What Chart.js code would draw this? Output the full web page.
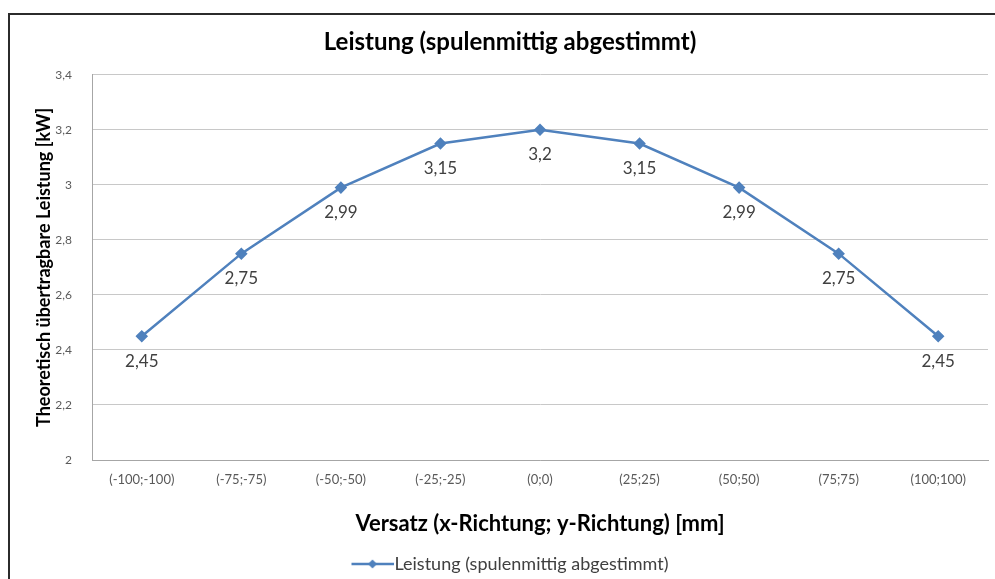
<!DOCTYPE html>
<html>
<head>
<meta charset="utf-8">
<script src="https://cdn.jsdelivr.net/npm/chart.js@4/dist/chart.umd.min.js"></script>
<style>
  html, body { margin: 0; padding: 0; background: #fff; }
  #wrap { width: 995px; height: 579px; }
</style>
</head>
<body>
<div id="wrap"><canvas id="grafico"></canvas></div>
<script>
const kategorien = ['(-100;-100)', '(-75;-75)', '(-50;-50)', '(-25;-25)', '(0;0)', '(25;25)', '(50;50)', '(75;75)', '(100;100)'];
const leistung = [2.45, 2.75, 2.99, 3.15, 3.2, 3.15, 2.99, 2.75, 2.45];
const yMin = 2, yMax = 3.4, yStep = 0.2;

const blau = '#4F81BD';
const schrift = 'Lato, "Open Sans", sans-serif';
const komma = v => String(Math.round(v * 100) / 100).replace('.', ',');

// Legendensymbol: Linie mit Raute (reicht bis an den Text heran)
function legendSymbol() {
  const c = document.createElement('canvas');
  c.width = 52; c.height = 12;
  const g = c.getContext('2d');
  g.strokeStyle = blau; g.lineWidth = 2.5;
  g.beginPath(); g.moveTo(9, 6); g.lineTo(52, 6); g.stroke();
  g.fillStyle = blau;
  g.beginPath(); g.moveTo(30, 1.5); g.lineTo(34.5, 6); g.lineTo(30, 10.5); g.lineTo(25.5, 6); g.closePath(); g.fill();
  return c;
}

/* ================= PLUGINS ================= */
const rahmen = {
  id: 'rahmen',
  beforeDraw(chart) {
    const ctx = chart.ctx;
    ctx.save();
    ctx.fillStyle = '#fff';
    ctx.fillRect(0, 0, chart.width, chart.height);
    ctx.strokeStyle = '#2b2b2b';
    ctx.lineWidth = 2;
    ctx.strokeRect(9, 14, chart.width + 20, chart.height + 20);
    ctx.restore();
  }
};

const werte = {
  id: 'werte',
  afterDatasetsDraw(chart) {
    const ctx = chart.ctx;
    const meta = chart.getDatasetMeta(0);
    ctx.save();
    ctx.font = '17px ' + schrift;
    ctx.fillStyle = '#404040';
    ctx.textAlign = 'center';
    ctx.textBaseline = 'middle';
    meta.data.forEach((pt, i) => {
      ctx.fillText(komma(leistung[i]), pt.x, pt.y + 25);
    });
    ctx.restore();
  }
};

/* ================= DIAGRAMM ================= */
new Chart(document.getElementById('grafico'), {
  type: 'line',
  data: {
    labels: kategorien,
    datasets: [{
      label: 'Leistung (spulenmittig abgestimmt)',
      data: leistung,
      borderColor: blau,
      backgroundColor: blau,
      borderWidth: 2.5,
      pointStyle: 'rectRot',
      pointRadius: 4.5,
      pointHoverRadius: 4.5,
      tension: 0
    }]
  },
  options: {
    responsive: true,
    maintainAspectRatio: false,
    animation: false,
    layout: { padding: { left: 30, right: 5, top: 0, bottom: -4 } },
    plugins: {
      title: {
        display: true,
        text: 'Leistung (spulenmittig abgestimmt)',
        color: '#000',
        font: { family: schrift, size: 24, weight: 'bold' },
        padding: { top: 28, bottom: 18 }
      },
      legend: {
        position: 'bottom',
        labels: {
          usePointStyle: true,
          pointStyleWidth: 34,
          padding: 3,
          color: '#404040',
          font: { family: schrift, size: 18 },
          generateLabels: chart => [{
            text: chart.data.datasets[0].label,
            pointStyle: legendSymbol(),
            fillStyle: blau,
            strokeStyle: blau,
            lineWidth: 0,
            fontColor: '#404040',
            datasetIndex: 0
          }]
        }
      },
      tooltip: { enabled: false }
    },
    scales: {
      x: {
        offset: true,
        grid: { display: false, drawTicks: false },
        border: { display: true, color: '#a6a6a6', width: 1 },
        ticks: {
          color: '#595959',
          font: { family: schrift, size: 13 },
          padding: 12,
          maxRotation: 0,
          autoSkip: false
        },
        title: {
          display: true,
          text: 'Versatz (x-Richtung; y-Richtung) [mm]',
          color: '#000',
          font: { family: schrift, size: 22, weight: 'bold' },
          padding: { top: 11, bottom: 15 }
        }
      },
      y: {
        min: yMin,
        max: yMax,
        grid: { color: '#c8c8c8', drawTicks: false },
        border: { display: true, color: '#a6a6a6', width: 1 },
        ticks: {
          stepSize: yStep,
          color: '#595959',
          font: { family: schrift, size: 12 },
          padding: 20,
          callback: v => komma(v)
        },
        title: {
          display: true,
          text: 'Theoretisch übertragbare Leistung [kW]',
          color: '#000',
          font: { family: schrift, size: 18, weight: 'bold' },
          padding: { top: 3, bottom: 10 }
        },
        afterFit: s => { s.width = 62; }
      }
    }
  },
  plugins: [rahmen, werte]
});
</script>
</body>
</html>
